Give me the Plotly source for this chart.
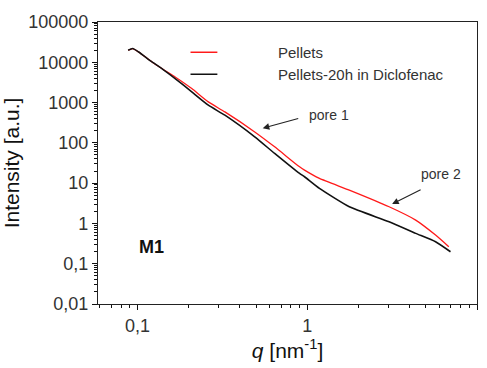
import math
import plotly.graph_objects as go

# ---- data ----
q_pellets = [0.0879, 0.0935, 0.1014, 0.1215, 0.139, 0.1664, 0.2085, 0.261, 0.3268,
             0.490, 0.642, 0.900, 0.963, 1.179, 1.768, 3.034, 4.352, 5.70, 6.82]
I_pellets = [19900, 21900, 18000, 10200, 7000, 4330, 2230, 1040, 586,
             187, 79.6, 25.4, 21.0, 13.1, 6.71, 2.59, 1.21, 0.514, 0.264]

q_diclo = [0.0879, 0.0935, 0.1014, 0.1215, 0.139, 0.1664, 0.2085, 0.261, 0.3268,
           0.490, 0.642, 0.900, 0.963, 1.179, 1.768, 3.034, 4.352, 5.70, 6.98]
I_diclo = [19900, 21900, 18000, 10200, 7000, 3950, 1840, 860, 486,
           141, 54.6, 17.4, 14.4, 7.4, 2.59, 1.10, 0.567, 0.351, 0.198]

series_names = ["Pellets", "Pellets-20h in Diclofenac"]
series_colors = ["#ff1a1a", "#111111"]

y_tickvals = [0.01, 0.1, 1, 10, 100, 1000, 10000, 100000]
y_ticktext = ["0,01", "0,1", "1", "10", "100", "1000", "10000", "100000"]
x_tickvals = [0.1, 1, 10]
x_ticktext = ["0,1", "1", "10"]

annot_texts = ["pore 1", "pore 2"]
panel_label = "M1"

FONT = "Liberation Sans, Arial, sans-serif"

fig = go.Figure()
fig.add_trace(go.Scatter(x=q_pellets, y=I_pellets, mode="lines", name=series_names[0],
                         line=dict(color=series_colors[0], width=1.3, shape="spline", smoothing=0.5),
                         showlegend=False))
fig.add_trace(go.Scatter(x=q_diclo, y=I_diclo, mode="lines", name=series_names[1],
                         line=dict(color=series_colors[1], width=1.6, shape="spline", smoothing=0.5),
                         showlegend=False))

x_minor = [m * 10 ** e for e in (-2, -1, 0) for m in range(2, 10)]
y_minor = [m * 10 ** e for e in range(-2, 5) for m in range(2, 10)]

common = dict(type="log", tickmode="array", ticks="outside", ticklen=5, tickwidth=1.2,
              tickcolor="#111", showline=True, linecolor="#222", linewidth=1.3, mirror=True,
              showgrid=False, zeroline=False, tickfont=dict(family=FONT, size=18, color="#333"))

fig.update_xaxes(range=[-1.2335, 1.0], tickvals=x_tickvals, ticktext=x_ticktext,
                 minor=dict(ticks="outside", ticklen=3, tickcolor="#111", tickmode="array", tickvals=x_minor),
                 title=dict(text="<i>q</i> [nm<sup>-1</sup>]", font=dict(family=FONT, size=21, color="#111"),
                            standoff=6), **common)
fig.update_yaxes(range=[-2, 5], tickvals=y_tickvals, ticktext=y_ticktext,
                 minor=dict(ticks="outside", ticklen=3, tickcolor="#111", tickmode="array", tickvals=y_minor),
                 title=dict(text="Intensity [a.u.]", font=dict(family=FONT, size=21, color="#111"),
                            standoff=4), **common)

fig.update_layout(
    width=487, height=368,
    margin=dict(l=97, r=9, t=22, b=64),
    paper_bgcolor="white", plot_bgcolor="white",
    font=dict(family=FONT),
)

# pixel position -> data coordinates (for decoration placement only)
def px_to_data(px, py):
    lx = -1 + (px - 137.3) / 170.5
    ly = 5 - (py - 21.7) / 40.33
    return lx, ly

# manual legend
leg_y = [52, 74]
for i, (name, col) in enumerate(zip(series_names, series_colors)):
    py = 1 - (leg_y[i] - 21.7) / (304 - 21.7)
    fig.add_shape(type="line", xref="paper", yref="paper",
                  x0=(190 - 97) / 381, x1=(217 - 97) / 381, y0=py, y1=py,
                  line=dict(color=col, width=1.5))
    fig.add_annotation(xref="paper", yref="paper", x=(276 - 97) / 381, y=py,
                       text=name, showarrow=False, xanchor="left", yanchor="middle",
                       font=dict(family=FONT, size=15, color="#333"))

for (hx, hy, tx, ty) in [(263, 128, 300, 118), (393, 204, 423, 189)]:
    lx, ly = px_to_data(hx, hy)
    fig.add_annotation(x=lx, y=ly, xref="x", yref="y",
                       ax=tx - hx, ay=ty - hy, axref="pixel", ayref="pixel",
                       text="", showarrow=True, arrowhead=2, arrowsize=1.2,
                       arrowwidth=1.1, arrowcolor="#222")

for txt, (px, py) in zip(annot_texts, [(307, 115), (420, 174)]):
    lx, ly = px_to_data(px, py)
    fig.add_annotation(x=lx, y=ly, xref="x", yref="y", text=txt, showarrow=False,
                       xanchor="left", yanchor="middle", font=dict(family=FONT, size=14, color="#333"))

lx, ly = px_to_data(137, 247)
fig.add_annotation(x=lx, y=ly, xref="x", yref="y", text="<b>" + panel_label + "</b>", showarrow=False,
                   xanchor="left", yanchor="middle", font=dict(family=FONT, size=18, color="#111"))

fig.write_html("out.html")
